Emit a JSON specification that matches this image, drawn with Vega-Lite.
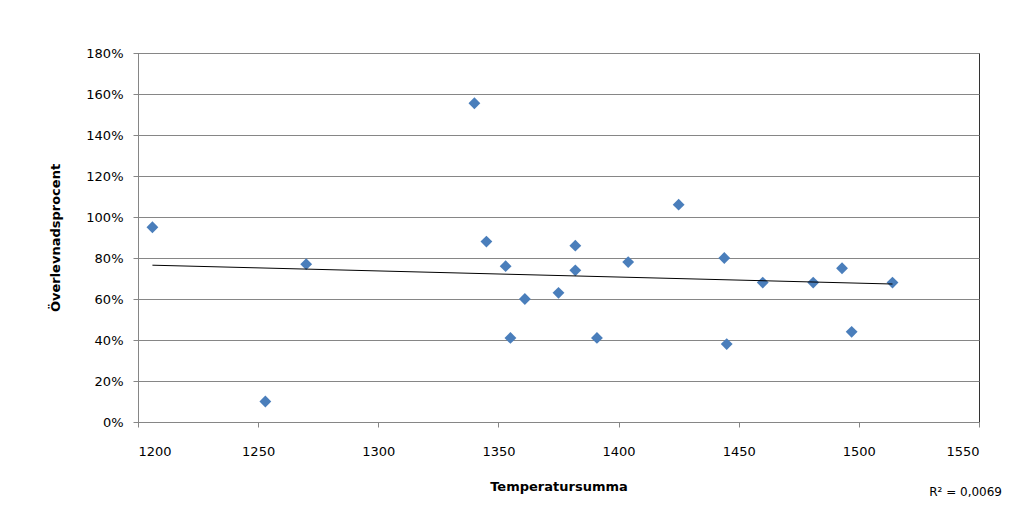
{
  "$schema": "https://vega.github.io/schema/vega-lite/v6.json",
  "width": 841,
  "height": 369,
  "autosize": {"type": "none"},
  "padding": {"left": 138, "top": 53, "right": 30, "bottom": 90},
  "background": "white",
  "config": {
    "font": "DejaVu Sans",
    "view": {"stroke": "#333333", "strokeWidth": 1},
    "axis": {
      "labelFont": "DejaVu Sans",
      "labelFontSize": 13,
      "labelColor": "#000000",
      "titleFont": "DejaVu Sans",
      "titleFontSize": 13,
      "titleFontWeight": "bold",
      "titleColor": "#000000",
      "domainColor": "#868686",
      "tickColor": "#868686",
      "gridColor": "#868686",
      "tickSize": 5
    }
  },
  "title": {
    "text": "R² = 0,0069",
    "orient": "bottom",
    "anchor": "end",
    "frame": "group",
    "fontSize": 12,
    "fontWeight": "normal",
    "font": "DejaVu Sans",
    "color": "#000000",
    "dx": 23,
    "dy": -6,
    "offset": 0
  },
  "data": {
    "values": [
      {"temp": 1206, "surv": 0.95},
      {"temp": 1253, "surv": 0.10},
      {"temp": 1270, "surv": 0.77},
      {"temp": 1340, "surv": 1.555},
      {"temp": 1345, "surv": 0.88},
      {"temp": 1353, "surv": 0.76},
      {"temp": 1355, "surv": 0.41},
      {"temp": 1361, "surv": 0.60},
      {"temp": 1375, "surv": 0.63},
      {"temp": 1382, "surv": 0.86},
      {"temp": 1382, "surv": 0.74},
      {"temp": 1391, "surv": 0.41},
      {"temp": 1404, "surv": 0.78},
      {"temp": 1425, "surv": 1.06},
      {"temp": 1444, "surv": 0.80},
      {"temp": 1445, "surv": 0.38},
      {"temp": 1460, "surv": 0.68},
      {"temp": 1481, "surv": 0.68},
      {"temp": 1493, "surv": 0.75},
      {"temp": 1497, "surv": 0.44},
      {"temp": 1514, "surv": 0.68}
    ]
  },
  "encoding": {
    "x": {
      "field": "temp",
      "type": "quantitative",
      "scale": {"domain": [1200, 1550], "nice": false, "zero": false},
      "axis": {
        "title": "Temperatursumma",
        "format": "d",
        "values": [1200, 1250, 1300, 1350, 1400, 1450, 1500, 1550],
        "grid": false,
        "labelPadding": 18,
        "titleY": 64,
        "titleBaseline": "middle"
      }
    },
    "y": {
      "field": "surv",
      "type": "quantitative",
      "scale": {"domain": [0, 1.8], "nice": false},
      "axis": {
        "title": "Överlevnadsprocent",
        "format": ".0%",
        "values": [0, 0.2, 0.4, 0.6, 0.8, 1.0, 1.2, 1.4, 1.6, 1.8],
        "grid": true,
        "labelPadding": 10,
        "titleX": -83,
        "titleY": 184.5,
        "titleAngle": 270,
        "titleAlign": "center",
        "titleBaseline": "middle"
      }
    }
  },
  "layer": [
    {
      "mark": {"type": "point", "shape": "diamond", "filled": true, "size": 140, "color": "#4A7EBB", "opacity": 1}
    },
    {
      "transform": [{"regression": "surv", "on": "temp", "method": "linear"}],
      "mark": {"type": "line", "color": "#000000", "strokeWidth": 1}
    }
  ]
}
